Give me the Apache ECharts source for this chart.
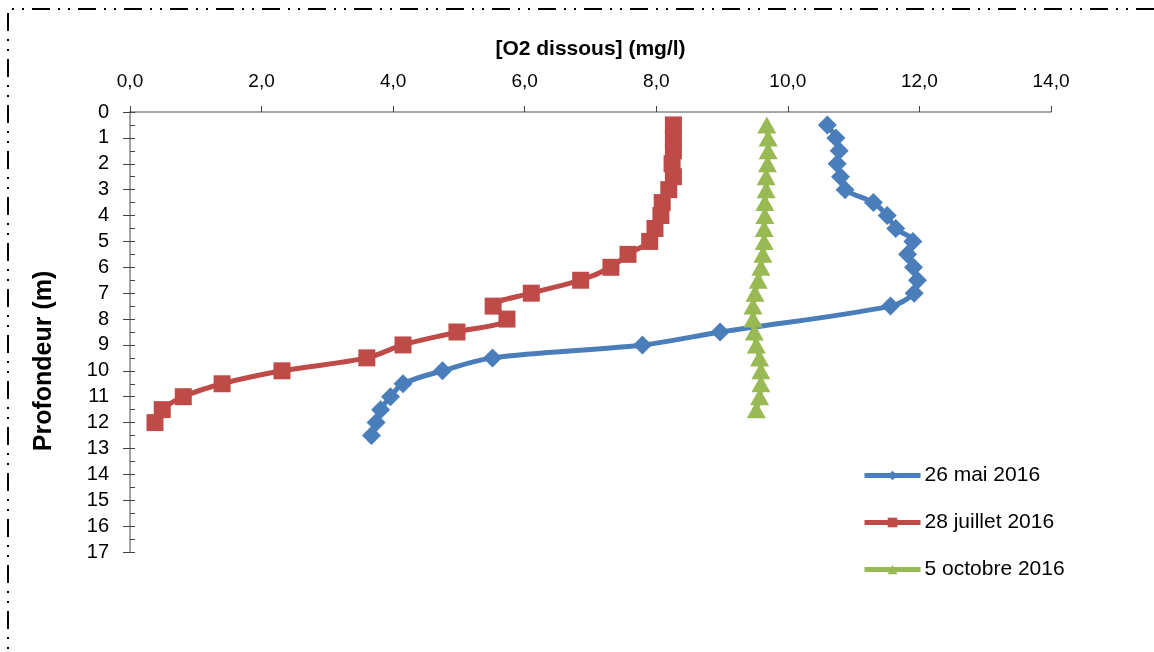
<!DOCTYPE html>
<html>
<head>
<meta charset="utf-8">
<script src="https://cdn.jsdelivr.net/npm/echarts@6/dist/echarts.min.js"></script>
<style>
html,body{margin:0;padding:0;background:#fff;}
#chart{width:1154px;height:652px;}
</style>
</head>
<body>
<div id="chart"></div>
<script>
// Series names
const seriesNames = ['26 mai 2016', '28 juillet 2016', '5 octobre 2016'];

// 26 mai 2016 : depth (m) and dissolved O2 (mg/l)
const depthMai = [0.5, 1, 1.5, 2, 2.5, 3, 3.5, 4, 4.5, 5, 5.5, 6, 6.5, 7, 7.5, 8.5, 9, 9.5, 10, 10.5, 11, 11.5, 12, 12.5];
const o2Mai    = [10.60, 10.73, 10.78, 10.75, 10.80, 10.87, 11.30, 11.51, 11.64, 11.90, 11.82, 11.91, 11.97, 11.92, 11.56, 8.97, 7.79, 5.51, 4.75, 4.15, 3.96, 3.81, 3.74, 3.67];

// 28 juillet 2016
const depthJuil = [0.5, 1, 1.5, 2, 2.5, 3, 3.5, 4, 4.5, 5, 5.5, 6, 6.5, 7, 7.5, 8, 8.5, 9, 9.5, 10, 10.5, 11, 11.5, 12];
const o2Juil    = [8.26, 8.26, 8.26, 8.24, 8.26, 8.19, 8.09, 8.07, 7.98, 7.90, 7.57, 7.31, 6.85, 6.10, 5.52, 5.73, 4.97, 4.15, 3.60, 2.31, 1.40, 0.81, 0.49, 0.38];

// 5 octobre 2016
const depthOct = [0.5, 1, 1.5, 2, 2.5, 3, 3.5, 4, 4.5, 5, 5.5, 6, 6.5, 7, 7.5, 8, 8.5, 9, 9.5, 10, 10.5, 11, 11.5];
const o2Oct    = [9.68, 9.70, 9.70, 9.69, 9.67, 9.67, 9.65, 9.65, 9.64, 9.64, 9.62, 9.59, 9.55, 9.50, 9.47, 9.47, 9.49, 9.52, 9.57, 9.59, 9.59, 9.57, 9.52];

// Axis settings
const xMin = 0, xMax = 14, xStep = 2;
const yMin = 0, yMax = 17, yStep = 1;
const xTitle = '[O2 dissous] (mg/l)';
const yTitle = 'Profondeur (m)';

const colors = ['#4A7EBB', '#BE4B48', '#98B954'];
const symbols = ['diamond', 'rect', 'triangle'];
const symbolSizes = [19, 17, [19, 17]];

function pairs(xs, ys) { return xs.map((x, i) => [x, ys[i]]); }
const datasets = [pairs(o2Mai, depthMai), pairs(o2Juil, depthJuil), pairs(o2Oct, depthOct)];

const font = 'Liberation Sans, Arial, sans-serif';
const chart = echarts.init(document.getElementById('chart'), null, {renderer: 'canvas'});

chart.setOption({
  animation: false,
  backgroundColor: '#fff',
  textStyle: {fontFamily: font},
  grid: {left: 130, right: 103, top: 112, bottom: 100, containLabel: false},
  legend: {
    orient: 'vertical',
    left: 862,
    top: 465,
    padding: 0,
    itemWidth: 56,
    itemHeight: 12,
    itemGap: 26,
    lineStyle: {width: 5},
    textStyle: {fontSize: 21, color: '#000', fontFamily: font, padding: [0, 0, 0, -1]},
    data: seriesNames
  },
  xAxis: {
    type: 'value',
    position: 'top',
    min: xMin, max: xMax, interval: xStep,
    name: xTitle,
    nameLocation: 'middle',
    nameGap: 52,
    nameTextStyle: {fontSize: 21, fontWeight: 'bold', color: '#000', fontFamily: font},
    axisLine: {show: true, lineStyle: {color: '#868686', width: 1.5}},
    axisTick: {show: true, length: 6, lineStyle: {color: '#444'}},
    axisLabel: {fontSize: 19, color: '#000', margin: 21, fontFamily: font,
      formatter: v => v.toFixed(1).replace('.', ',')},
    splitLine: {show: false}
  },
  yAxis: [{
    type: 'value',
    inverse: true,
    min: yMin, max: yMax, interval: yStep,
    axisLine: {show: true, lineStyle: {color: '#868686', width: 1.5}},
    axisTick: {show: true, inside: true, length: 5, lineStyle: {color: '#444'}},
    minorTick: {show: true, splitNumber: 2, length: 5, lineStyle: {color: '#444'}},
    axisLabel: {fontSize: 20, color: '#000', margin: 21, fontFamily: font},
    splitLine: {show: false}
  }, {
    type: 'value',
    inverse: true,
    position: 'left',
    min: yMin, max: yMax, interval: yStep,
    axisLine: {show: false},
    axisTick: {show: true, length: 7, lineStyle: {color: '#444'}},
    axisLabel: {show: false},
    splitLine: {show: false}
  }],
  series: seriesNames.map((name, i) => ({
    name: name,
    type: 'line',
    yAxisIndex: 0,
    data: datasets[i],
    smooth: 0.35,
    symbol: symbols[i],
    symbolSize: symbolSizes[i],
    showAllSymbol: true,
    color: colors[i],
    lineStyle: {width: 5, color: colors[i]},
    itemStyle: {color: colors[i]},
    z: 2 + i
  })),
  graphic: [
    {
      type: 'text',
      x: 44, y: 361,
      rotation: Math.PI / 2,
      style: {text: yTitle, fontSize: 25, fontWeight: 'bold', fill: '#000', fontFamily: font,
        align: 'center', verticalAlign: 'middle'}
    },
    {
      type: 'polyline',
      shape: {points: [[1154, 9], [8, 9], [8, 652]]},
      style: {stroke: '#000', lineWidth: 2, fill: null, lineDash: [18, 8, 2, 8, 2, 8]}
    }
  ]
});
</script>
</body>
</html>
